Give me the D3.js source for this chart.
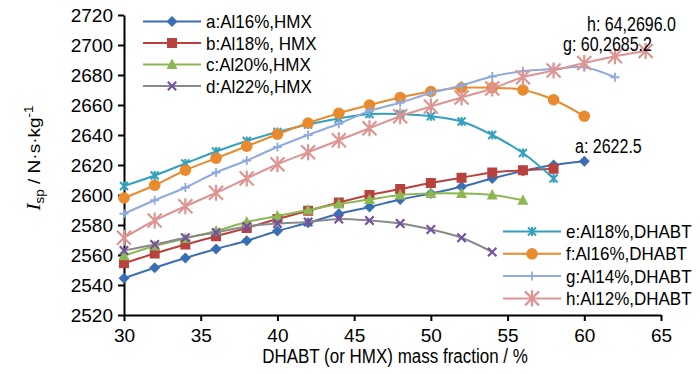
<!DOCTYPE html>
<html>
<head>
<meta charset="utf-8">
<script src="https://cdn.jsdelivr.net/npm/d3@7"></script>
<style>
  body { margin: 0; background: #fff; }
  svg { display: block; font-family: "Liberation Sans", Arial, sans-serif; }
</style>
</head>
<body>
<svg id="chart" width="700" height="374"></svg>
<script>
// Data
const xA = [30, 32, 34, 36, 38, 40, 42, 44, 46, 48, 50, 52, 54, 56, 58, 60];
const yA = [2544.5, 2551.5, 2558, 2564, 2569.5, 2576, 2581.5, 2587.5, 2592, 2597, 2601, 2605.5, 2611, 2616, 2620, 2622.5];
const xB = [30, 32, 34, 36, 38, 40, 42, 44, 46, 48, 50, 52, 54, 56, 58];
const yB = [2554.5, 2561, 2567, 2572.5, 2578, 2584, 2589.5, 2595, 2600, 2604, 2608, 2611.5, 2615, 2616.5, 2617.5];
const xC = [30, 32, 34, 36, 38, 40, 42, 44, 46, 48, 50, 52, 54, 56];
const yC = [2559.5, 2566, 2571, 2576, 2582, 2586, 2590, 2594, 2597, 2600, 2601, 2601, 2600, 2596.5];
const xD = [30, 32, 34, 36, 38, 40, 42, 44, 46, 48, 50, 52, 54];
const yD = [2563, 2567, 2571.5, 2575, 2579, 2581, 2582, 2584, 2583, 2581, 2577, 2571.5, 2562];
const xE = [30, 32, 34, 36, 38, 40, 42, 44, 46, 48, 50, 52, 54, 56, 58];
const yE = [2606, 2613, 2621, 2629, 2636, 2642, 2647, 2651, 2654, 2654, 2652.5, 2649, 2640, 2628, 2611];
const xF = [30, 32, 34, 36, 38, 40, 42, 44, 46, 48, 50, 52, 54, 56, 58, 60];
const yF = [2598, 2606.5, 2616.5, 2624.5, 2632.5, 2640.5, 2648, 2654.5, 2660, 2665, 2669, 2671.5, 2671.5, 2670, 2663.5, 2652.5];
const xG = [30, 32, 34, 36, 38, 40, 42, 44, 46, 48, 50, 52, 54, 56, 58, 60, 62];
const yG = [2587.5, 2596.5, 2605, 2615, 2623, 2632, 2640, 2647.5, 2656, 2661.5, 2668, 2673, 2679, 2682.5, 2684, 2685.2, 2678.5];
const xH = [30, 32, 34, 36, 38, 40, 42, 44, 46, 48, 50, 52, 54, 56, 58, 60, 62, 64];
const yH = [2571.5, 2583, 2592.5, 2601.5, 2611, 2620.5, 2628.5, 2636.5, 2644.5, 2652.5, 2659, 2665, 2671, 2678.5, 2683, 2688, 2692.5, 2696];

const xTicks = [30, 35, 40, 45, 50, 55, 60, 65];
const yTicks = [2520, 2540, 2560, 2580, 2600, 2620, 2640, 2660, 2680, 2700, 2720];

const series = [
    {key: 'a', label: 'a:Al16%,HMX',   xs: xA, ys: yA, line: '#3b6db4', fill: '#3b6db4', marker: 'diamond'},
    {key: 'b', label: 'b:Al18%, HMX',  xs: xB, ys: yB, line: '#b9423f', fill: '#b9423f', marker: 'square'},
    {key: 'c', label: 'c:Al20%,HMX',   xs: xC, ys: yC, line: '#8db751', fill: '#8db751', marker: 'triangle'},
    {key: 'd', label: 'd:Al22%,HMX',   xs: xD, ys: yD, line: '#8a8a8a', fill: '#7451a0', marker: 'x'},
    {key: 'e', label: 'e:Al18%,DHABT', xs: xE, ys: yE, line: '#33a0bd', fill: '#33a0bd', marker: 'star'},
    {key: 'f', label: 'f:Al16%,DHABT', xs: xF, ys: yF, line: '#ea8a2f', fill: '#ea8a2f', marker: 'circle'},
    {key: 'g', label: 'g:Al14%,DHABT', xs: xG, ys: yG, line: '#8faadc', fill: '#8faadc', marker: 'plus'},
    {key: 'h', label: 'h:Al12%,DHABT', xs: xH, ys: yH, line: '#dc9593', fill: '#dc9593', marker: 'bigstar'}
];

const svg = d3.select('#chart');

const x = d3.scaleLinear().domain([30, 65]).range([124, 661]);
const y = d3.scaleLinear().domain([2520, 2720]).range([315, 15]);

// marker drawing
function drawMarker(g, type, cx, cy, color) {
    if (type === 'diamond') {
        g.append('path').attr('d', `M${cx},${cy - 5.5}L${cx + 5.5},${cy}L${cx},${cy + 5.5}L${cx - 5.5},${cy}Z`)
            .attr('fill', color);
    } else if (type === 'square') {
        g.append('rect').attr('x', cx - 5).attr('y', cy - 5).attr('width', 10).attr('height', 10)
            .attr('fill', color);
    } else if (type === 'triangle') {
        g.append('path').attr('d', `M${cx},${cy - 6}L${cx + 5.5},${cy + 4.5}L${cx - 5.5},${cy + 4.5}Z`)
            .attr('fill', color);
    } else if (type === 'circle') {
        g.append('circle').attr('cx', cx).attr('cy', cy).attr('r', 5.8).attr('fill', color);
    } else if (type === 'x') {
        const r = 4.2;
        g.append('path').attr('d', `M${cx - r},${cy - r}L${cx + r},${cy + r}M${cx - r},${cy + r}L${cx + r},${cy - r}`)
            .attr('stroke', color).attr('stroke-width', 2.2).attr('fill', 'none');
    } else if (type === 'plus') {
        const r = 4.5;
        g.append('path').attr('d', `M${cx - r},${cy}L${cx + r},${cy}M${cx},${cy - r}L${cx},${cy + r}`)
            .attr('stroke', color).attr('stroke-width', 1.8).attr('fill', 'none');
    } else if (type === 'star' || type === 'bigstar') {
        // asterisk: an X plus a vertical bar
        const r = type === 'star' ? 4 : 7;
        const v = r * 1.15;
        g.append('path')
            .attr('d', `M${cx - r},${cy - r}L${cx + r},${cy + r}M${cx - r},${cy + r}L${cx + r},${cy - r}M${cx},${cy - v}L${cx},${cy + v}`)
            .attr('stroke', color).attr('stroke-width', type === 'star' ? 2 : 2.2).attr('fill', 'none');
    }
}

// text with a slight vertical stretch, as in the source picture
function addText(tx, ty, str, size, sy, anchor) {
    return svg.append('text')
        .attr('transform', `translate(${tx},${ty}) scale(1,${sy})`)
        .attr('text-anchor', anchor || 'start')
        .style('font-size', size + 'px')
        .attr('fill', '#000')
        .text(str);
}

// axes
const yAxis = svg.append('g')
    .attr('transform', `translate(${x(30)},0)`)
    .call(d3.axisLeft(y).tickValues(yTicks).tickFormat(d3.format('d'))
        .tickSize(6).tickSizeOuter(0).tickPadding(5));

const xAxis = svg.append('g')
    .attr('transform', `translate(0,${y(2520)})`)
    .call(d3.axisBottom(x).tickValues(xTicks).tickFormat(d3.format('d'))
        .tickSize(6).tickSizeOuter(0).tickPadding(8));

[yAxis, xAxis].forEach(a => {
    a.select('.domain').attr('stroke', '#000').attr('stroke-width', 2);
    a.selectAll('.tick line').attr('stroke', '#000').attr('stroke-width', 2);
    a.selectAll('.tick text').attr('fill', '#000').style('font-size', '19px')
        .style('font-family', '"Liberation Sans", Arial, sans-serif');
});

// lines and markers
const line = d3.line()
    .x(d => x(d[0]))
    .y(d => y(d[1]))
    .curve(d3.curveCatmullRom.alpha(0.5));

series.forEach(s => {
    const pts = s.xs.map((v, i) => [v, s.ys[i]]);
    const g = svg.append('g').attr('class', 'series-' + s.key);
    g.append('path')
        .datum(pts)
        .attr('d', line)
        .attr('fill', 'none')
        .attr('stroke', s.line)
        .attr('stroke-width', 2);
    pts.forEach(p => drawMarker(g, s.marker, x(p[0]), y(p[1]), s.fill));
});

// legends
function legend(items, lx, ly, step) {
    items.forEach((s, i) => {
        const cy = ly + i * step;
        const g = svg.append('g');
        g.append('line').attr('x1', lx).attr('x2', lx + 58).attr('y1', cy).attr('y2', cy)
            .attr('stroke', s.line).attr('stroke-width', 2);
        drawMarker(g, s.marker, lx + 29, cy, s.fill);
        addText(lx + 63, cy + 6.5, s.label, 17, 1.1);
    });
}
legend(series.slice(0, 4), 143, 21.5, 21.5);
legend(series.slice(4), 503, 231.5, 22.3);

// point annotations
addText(587, 31, 'h: 64,2696.0', 16, 1.25);
addText(563, 51, 'g: 60,2685.2', 16, 1.25);
addText(575, 153, 'a: 2622.5', 16, 1.25);

// axis titles
addText(395, 363, 'DHABT (or HMX) mass fraction / %', 17, 1.15, 'middle');

const yt = svg.append('text')
    .attr('transform', 'translate(40,158) rotate(-90) scale(1.12,1)')
    .attr('text-anchor', 'middle')
    .style('font-size', '17px');
yt.append('tspan').style('font-family', '"Liberation Serif", "Times New Roman", serif')
    .style('font-style', 'italic').style('font-size', '19px').text('I');
yt.append('tspan').attr('dy', 4).style('font-size', '12px').text('sp');
yt.append('tspan').attr('dy', -4).text(' / N·s·kg');
yt.append('tspan').attr('dy', -7).style('font-size', '12px').text('-1');
</script>
</body>
</html>
